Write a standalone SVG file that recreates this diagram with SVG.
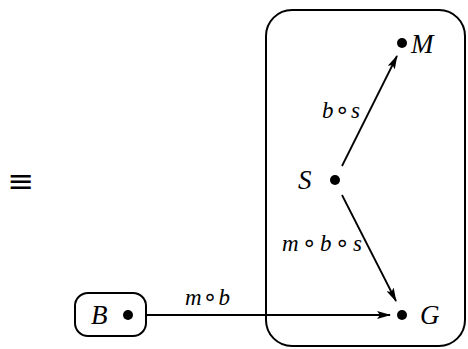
<svg xmlns="http://www.w3.org/2000/svg" width="468" height="349" viewBox="0 0 468 349">
<defs>
<style>
.box{fill:none;stroke:#000;stroke-width:2}
.edge{fill:none;stroke:#000;stroke-width:1.8}
.dot{fill:#000}
.lbl{font-family:"Liberation Serif",serif;font-style:italic;font-size:27px;fill:#000}
.el{font-family:"Liberation Serif",serif;font-style:italic;font-size:23px;fill:#000}
.op{font-family:"DejaVu Sans",sans-serif;font-style:normal;font-size:24px}
</style>
<marker id="ah" markerWidth="14" markerHeight="8" refX="13" refY="4" orient="auto" markerUnits="userSpaceOnUse">
<path d="M0,0 L14,4 L0,8 L3,4 Z" fill="#000"/>
</marker>
</defs>
<text x="21" y="192" font-family="DejaVu Sans,sans-serif" font-size="32" text-anchor="middle">≡</text>
<g id="group">
<rect class="box" x="266" y="10" width="199" height="336" rx="26" ry="26"/>
</g>
<g id="nodeM">
<circle class="dot" cx="402" cy="43" r="5"/>
<text class="lbl" x="411" y="53">M</text>
</g>
<g id="nodeS">
<circle class="dot" cx="335" cy="180" r="5"/>
<text class="lbl" x="298" y="189">S</text>
</g>
<g id="nodeG">
<circle class="dot" cx="402" cy="315" r="5"/>
<text class="lbl" x="420" y="324">G</text>
</g>
<g id="nodeB">
<rect class="box" x="75" y="293" width="71" height="43" rx="13" ry="13"/>
<circle class="dot" cx="128" cy="315" r="5"/>
<text class="lbl" x="91" y="324">B</text>
</g>
<g id="connectors">
<line class="edge" x1="342" y1="166" x2="397" y2="56" marker-end="url(#ah)"/>
<line class="edge" x1="342" y1="195" x2="396" y2="301" marker-end="url(#ah)"/>
<line class="edge" x1="146" y1="315" x2="390" y2="315" marker-end="url(#ah)"/>
<text class="el" x="322" y="118" textLength="38" lengthAdjust="spacing">b<tspan class="op">∘</tspan>s</text>
<text class="el" x="282" y="251" textLength="80" lengthAdjust="spacing">m<tspan class="op">∘</tspan>b<tspan class="op">∘</tspan>s</text>
<text class="el" x="185" y="305" textLength="45" lengthAdjust="spacing">m<tspan class="op">∘</tspan>b</text>
</g>
</svg>
